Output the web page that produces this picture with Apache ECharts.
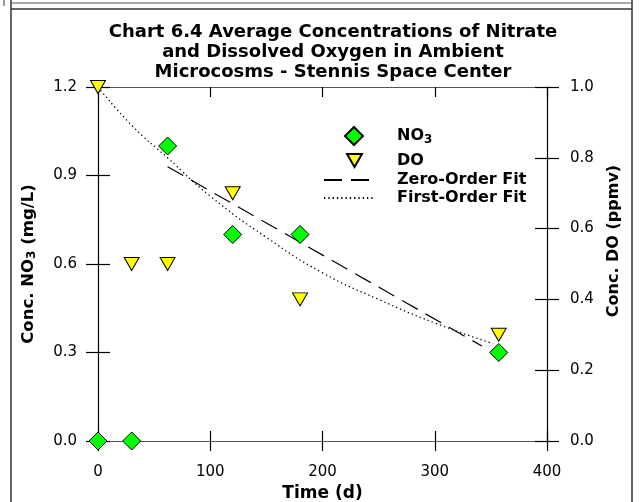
<!DOCTYPE html>
<html>
<head>
<meta charset="utf-8">
<script src="https://cdn.jsdelivr.net/npm/echarts@6/dist/echarts.min.js"></script>
<style>html,body{margin:0;padding:0;background:#fff;}#c{width:642px;height:502px;}</style>
</head>
<body>
<div id="c"></div>
<script>
// ---- data ----
const titleLines = ['Chart 6.4 Average Concentrations of Nitrate', 'and Dissolved Oxygen in Ambient', 'Microcosms - Stennis Space Center'];
const no3Time = [0, 30, 62, 120, 180, 357];
const no3Conc = [0.0, 0.0, 1.0, 0.7, 0.7, 0.3];
const doTime = [0, 30, 62, 120, 180, 357];
const doConc = [1.0, 0.5, 0.5, 0.7, 0.4, 0.3];
const zeroFitTime = [62, 342];
const zeroFitConc = [0.93, 0.322];
const firstFitTime = [0, 30, 62, 100, 150, 200, 250, 300, 352];
const firstFitConc = [1.2, 1.07, 0.96, 0.83, 0.69, 0.57, 0.48, 0.40, 0.33];
const xTicks = [0, 100, 200, 300, 400];
const leftTicks = [0.0, 0.3, 0.6, 0.9, 1.2];
const rightTicks = [0.0, 0.2, 0.4, 0.6, 0.8, 1.0];
const seriesNames = ['NO3', 'DO', 'Zero-Order Fit', 'First-Order Fit'];

const pair = (xs, ys) => xs.map((x, i) => [x, ys[i]]);
const FONT = 'DejaVu Sans, Verdana, sans-serif';
const chart = echarts.init(document.getElementById('c'), null, {renderer: 'canvas'});

const xBase = {type: 'value', min: xTicks[0], max: xTicks[xTicks.length - 1], interval: xTicks[1] - xTicks[0], splitLine: {show: false}};
const lBase = {type: 'value', min: leftTicks[0], max: leftTicks[leftTicks.length - 1], interval: leftTicks[1] - leftTicks[0], splitLine: {show: false}};
const rBase = {type: 'value', min: rightTicks[0], max: rightTicks[rightTicks.length - 1], interval: rightTicks[1] - rightTicks[0], splitLine: {show: false}};
const tickStyle = {color: '#000', width: 1.2};
const gridRect = {left: 98, right: 95, top: 87, bottom: 61, containLabel: false, outerBoundsMode: 'none'};
const legendText = pad => ({fontFamily: FONT, fontSize: 16, fontWeight: 'bold', color: '#000', padding: [0, 0, 0, pad],
  rich: {s: {fontFamily: FONT, fontSize: 12, fontWeight: 'bold', color: '#000', padding: [7, 0, 0, 0]}}});
const hideSym = {color: 'rgba(0,0,0,0)', borderColor: 'rgba(0,0,0,0)', borderWidth: 0};
const tickLbl = {color: '#000', fontFamily: FONT, fontSize: 15};
const lineOn = c => ({show: true, onZero: false, lineStyle: {color: c, width: 1.2}});
const lineOff = {show: false, onZero: false};

chart.setOption({
  animation: false,
  backgroundColor: '#fff',
  title: {
    text: titleLines.join('\n'),
    left: 328, top: 17, textAlign: 'center',
    textStyle: {fontFamily: FONT, fontSize: 18, fontWeight: 'bold', color: '#000', lineHeight: 20}
  },
  grid: [Object.assign({}, gridRect), Object.assign({}, gridRect)],
  legend: [
    {data: [seriesNames[0]], orient: 'vertical', left: 339, top: 121, itemWidth: 18, itemHeight: 18,
      selectedMode: false, textStyle: legendText(29), formatter: () => 'NO{s|3}'},
    {data: [{name: seriesNames[1], icon: 'path://M0,0L10,0L5,8.66Z'}], orient: 'vertical', left: 341, top: 147.5,
      itemWidth: 15, itemHeight: 13, selectedMode: false, textStyle: legendText(30)},
    {data: [{name: seriesNames[2], itemStyle: hideSym}, {name: seriesNames[3], itemStyle: hideSym}],
      orient: 'vertical', left: 318, top: 167, itemWidth: 50, itemHeight: 18, itemGap: 2,
      selectedMode: false, textStyle: legendText(18)}
  ],
  graphic: [
    {type: 'line', shape: {x1: 11, y1: 0, x2: 11, y2: 502}, style: {stroke: '#333', lineWidth: 1.5}, silent: true},
    {type: 'line', shape: {x1: 11, y1: 9, x2: 632, y2: 9}, style: {stroke: '#333', lineWidth: 1.5}, silent: true},
    {type: 'line', shape: {x1: 632, y1: 0, x2: 632, y2: 502}, style: {stroke: '#333', lineWidth: 1.5}, silent: true},
    {type: 'line', shape: {x1: 11, y1: 3, x2: 632, y2: 3}, style: {stroke: '#555', lineWidth: 1.2}, silent: true},
    {type: 'line', shape: {x1: 4, y1: 0, x2: 4, y2: 6}, style: {stroke: '#555', lineWidth: 1.2}, silent: true}
  ],
  xAxis: [
    Object.assign({}, xBase, {gridIndex: 0, position: 'bottom',
      axisLine: lineOn('#555'),
      axisTick: {show: true, inside: false, length: 10, lineStyle: tickStyle},
      axisLabel: Object.assign({show: true, margin: 24}, tickLbl),
      name: 'Time (d)', nameLocation: 'middle', nameGap: 42,
      nameTextStyle: {fontFamily: FONT, fontSize: 17, fontWeight: 'bold', color: '#000'}}),
    Object.assign({}, xBase, {gridIndex: 0, position: 'top',
      axisLine: lineOn('#555'),
      axisTick: {show: true, inside: true, length: 10, lineStyle: tickStyle},
      axisLabel: {show: false}}),
    Object.assign({}, xBase, {gridIndex: 1, position: 'bottom',
      axisLine: lineOff, axisTick: {show: true, inside: true, length: 10, lineStyle: tickStyle},
      axisLabel: {show: false}})
  ],
  yAxis: [
    Object.assign({}, lBase, {gridIndex: 0, position: 'left',
      axisLine: lineOn('#000'),
      axisTick: {show: true, inside: false, length: 12, lineStyle: tickStyle},
      axisLabel: Object.assign({show: true, margin: 21, formatter: v => v.toFixed(1)}, tickLbl),
      name: 'Conc. NO{s|3} (mg/L)', nameLocation: 'middle', nameGap: 60, nameRotate: 90,
      nameTextStyle: {fontFamily: FONT, fontSize: 16.5, fontWeight: 'bold', color: '#000',
        rich: {s: {fontFamily: FONT, fontSize: 12, fontWeight: 'bold', color: '#000', padding: [7, 0, 0, 0]}}}}),
    Object.assign({}, rBase, {gridIndex: 0, position: 'right',
      axisLine: lineOn('#000'),
      axisTick: {show: true, inside: false, length: 12, lineStyle: tickStyle},
      axisLabel: Object.assign({show: true, margin: 23, formatter: v => v.toFixed(1)}, tickLbl),
      name: 'Conc. DO (ppmv)', nameLocation: 'middle', nameGap: 59, nameRotate: 90,
      nameTextStyle: {fontFamily: FONT, fontSize: 16, fontWeight: 'bold', color: '#000', padding: [0, 0, 0, 46]}}),
    Object.assign({}, lBase, {gridIndex: 1, position: 'left',
      axisLine: lineOff, axisTick: {show: true, inside: true, length: 12, lineStyle: tickStyle},
      axisLabel: {show: false}}),
    Object.assign({}, rBase, {gridIndex: 1, position: 'right',
      axisLine: lineOff, axisTick: {show: true, inside: true, length: 12, lineStyle: tickStyle},
      axisLabel: {show: false}})
  ],
  series: [
    {name: seriesNames[0], type: 'scatter', xAxisIndex: 0, yAxisIndex: 0, data: pair(no3Time, no3Conc),
      symbol: 'diamond', symbolSize: 18, z: 5,
      itemStyle: {color: '#00ff00', borderColor: '#000', borderWidth: 1, opacity: 1}},
    {name: seriesNames[1], type: 'scatter', xAxisIndex: 0, yAxisIndex: 1, data: pair(doTime, doConc),
      symbol: 'triangle', symbolRotate: 180, symbolSize: [15, 13], z: 5,
      itemStyle: {color: '#ffff00', borderColor: '#000', borderWidth: 1, opacity: 1}},
    {name: seriesNames[2], type: 'line', xAxisIndex: 0, yAxisIndex: 0, data: pair(zeroFitTime, zeroFitConc),
      symbol: 'none', z: 3, color: '#000',
      lineStyle: {color: '#000', width: 1.2, type: [18, 9]}},
    {name: seriesNames[3], type: 'line', xAxisIndex: 0, yAxisIndex: 0, data: pair(firstFitTime, firstFitConc),
      symbol: 'none', smooth: true, z: 3, color: '#000',
      lineStyle: {color: '#000', width: 1.3, type: [1.3, 3]}}
  ]
});
</script>
</body>
</html>
